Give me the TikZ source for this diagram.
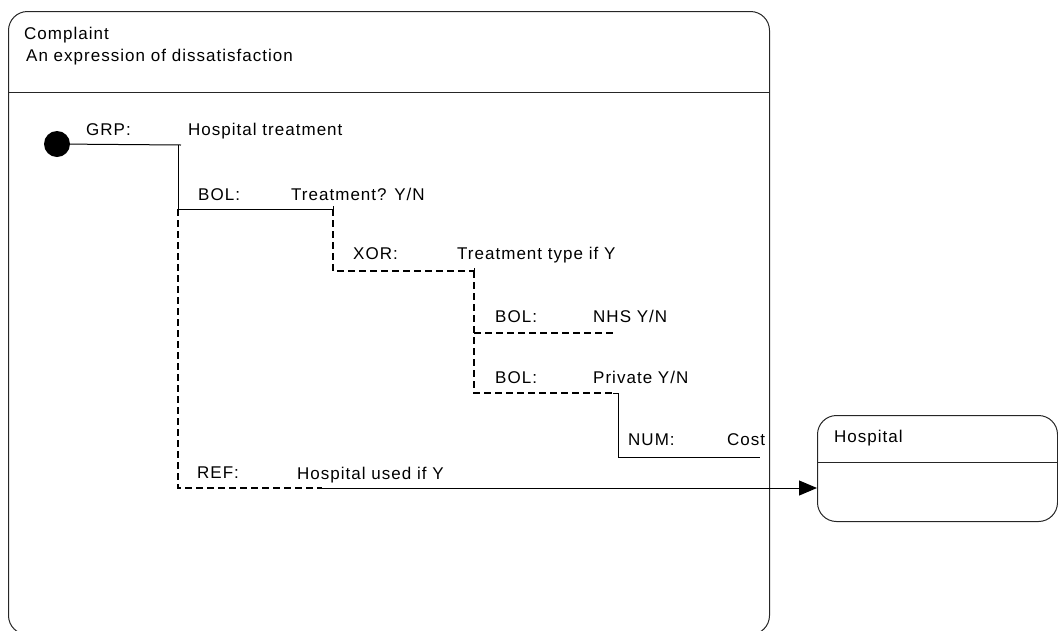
\documentclass[tikz,border=0pt]{standalone}
\usepackage{fontspec}
\usetikzlibrary{arrows.meta}
\newfontfamily\diagfont[LetterSpace=6]{Liberation Sans}
\begin{document}
\begin{tikzpicture}[x=1pt,y=-1pt,
  classbox/.style={draw=black!85, line width=1pt, rounded corners=19pt,
    rectangle, inner sep=0pt, anchor=north west},
  lbl/.style={anchor=base west, inner sep=0pt,
    font=\diagfont\fontsize{17}{20}\selectfont},
  solidlink/.style={draw=black, line width=1pt},
  optlink/.style={draw=black, line width=1.4pt, dash pattern=on 7pt off 4pt},
  reflink/.style={draw=black, line width=1pt,
    -{Triangle[length=18pt,width=15pt]}}]
\useasboundingbox (0,0) rectangle (1058,630);
\clip (0,0) rectangle (1058,630);

% entity boxes
\node[classbox, minimum width=761pt, minimum height=623pt] (complaint) at (8,11) {};
\draw[draw=black!85, line width=1pt] (complaint.west |- 0,92) coordinate (csepl)
  -- (complaint.east |- 0,92) coordinate (csepr);
\node[classbox, minimum width=240pt, minimum height=106pt] (hospital) at (817,415) {};
\draw[draw=black!85, line width=1pt] (hospital.west |- 0,462) coordinate (hsepl)
  -- (hospital.east |- 0,462) coordinate (hsepr);

% titles
\node[lbl] (ctitle) at (24,39) {Complaint};
\node[lbl] (cdesc) at (26,61) {An expression of dissatisfaction};
\node[lbl] (htitle) at (834,442) {Hospital};

% attribute labels
\node[lbl] (grpk) at (86,135) {GRP:};
\node[lbl] (grpv) at (188,135) {Hospital treatment};
\node[lbl] (bol1k) at (198,200) {BOL:};
\node[lbl] (bol1v) at (291,200) {Treatment? Y/N};
\node[lbl] (xork) at (353,259) {XOR:};
\node[lbl] (xorv) at (457,259) {Treatment type if Y};
\node[lbl] (bol2k) at (495,322) {BOL:};
\node[lbl] (bol2v) at (593,322) {NHS Y/N};
\node[lbl] (bol3k) at (495,383) {BOL:};
\node[lbl] (bol3v) at (593,383) {Private Y/N};
\node[lbl] (numk) at (628,445) {NUM:};
\node[lbl] (numv) at (727,445) {Cost};
\node[lbl] (refk) at (197,478) {REF:};
\node[lbl] (refv) at (297,479) {Hospital used if Y};

% start point and tree junctions
\node[circle, fill=black, minimum size=26pt, inner sep=0pt] (start) at (57,144) {};
\coordinate (grpj) at (178,145);
\coordinate (grpend) at (181,145);
\coordinate (bolA) at (178,209);
\coordinate (bolEnd) at (333,209);
\coordinate (xorB) at (333,271);
\coordinate (xorEnd) at (474,271);
\coordinate (nhsA) at (474,333);
\coordinate (nhsEnd) at (613,333);
\coordinate (prvA) at (474,393);
\coordinate (prvEnd) at (613,393);
\coordinate (numA) at (618,393);
\coordinate (numB) at (618,457);
\coordinate (numEnd) at (760,457);
\coordinate (refA) at (178,488);
\coordinate (refEnd) at (322,488);

% mandatory branches
\draw[solidlink] (start) -- (grpend);
\draw[solidlink] (grpj) -- (bolA) -- (bolEnd) -- ++(0,-3);
\draw[solidlink] (xorEnd) -- ++(0,-3);
\draw[solidlink] (nhsA) -- ++(3,0);
\draw[solidlink] (prvEnd) -- (numA) -- (numB) -- (numEnd);

% optional branches
\draw[optlink] (bolA) -- (refA) -- (refEnd);
\draw[optlink] (bolEnd) -- (xorB) -- (xorEnd);
\draw[optlink] (xorEnd) -- (prvA) -- (prvEnd);
\draw[optlink] (nhsA) -- (nhsEnd);

% reference to Hospital
\draw[reflink] (refEnd) -- (hospital.west |- refEnd);
\end{tikzpicture}
\end{document}
